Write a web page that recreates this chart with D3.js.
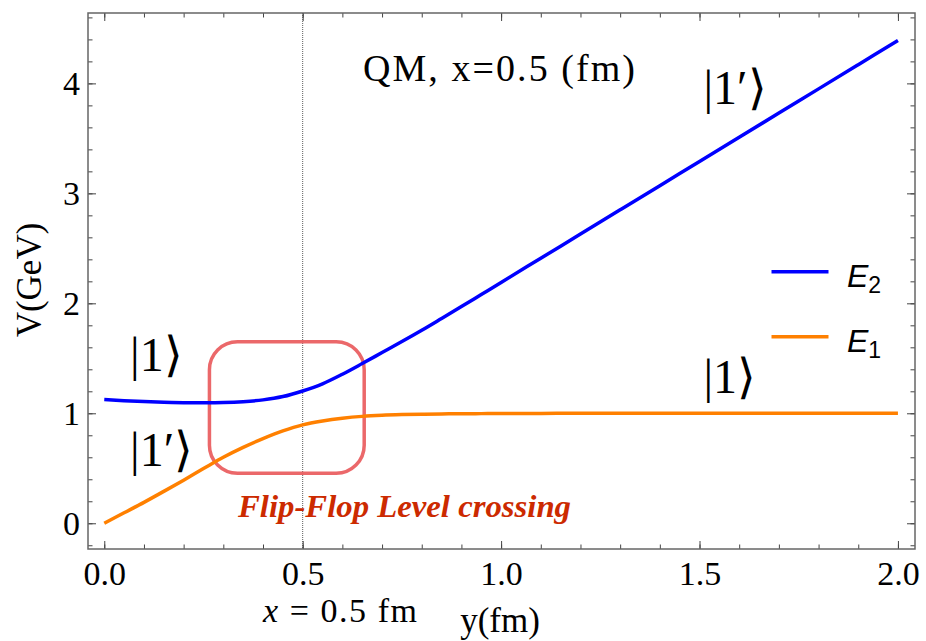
<!DOCTYPE html>
<html>
<head>
<meta charset="utf-8">
<script src="https://cdn.jsdelivr.net/npm/d3@7/dist/d3.min.js"></script>
<style>
  html, body { margin: 0; padding: 0; background: #fff; }
  svg { display: block; }
</style>
</head>
<body>
<svg id="chart" width="926" height="641"></svg>
<script>
// ---- data ----
const yPos = [0.00,0.05,0.10,0.15,0.20,0.25,0.30,0.35,0.40,0.45,0.50,0.55,0.60,0.65,0.70,0.75,0.80,0.85,0.90,0.95,1.00,
              1.10,1.20,1.30,1.40,1.50,1.60,1.70,1.80,1.90,2.00];
const E2 = [1.125,1.115,1.107,1.101,1.097,1.096,1.098,1.106,1.122,1.152,1.203,1.268,1.355,1.452,1.552,1.652,1.755,1.862,1.970,2.080,2.190,
            2.410,2.630,2.850,3.070,3.290,3.510,3.730,3.950,4.170,4.390];
const E1 = [0.000,0.095,0.190,0.290,0.392,0.497,0.600,0.690,0.770,0.840,0.895,0.930,0.955,0.972,0.982,0.988,0.992,0.994,0.996,0.997,0.998,
            0.999,1.000,1.000,1.000,1.000,1.000,1.000,1.000,1.000,1.000];
const seriesNames = ["E2", "E1"];
const xMajorTicks = [0.0, 0.5, 1.0, 1.5, 2.0];
const yMajorTicks = [0, 1, 2, 3, 4];
const xMinorTicks = d3.range(0, 21).map(i => i / 10);
const yMinorTicks = d3.range(-1, 24).map(i => i / 5);
const boxY = [0.265, 0.655];   // y(fm) extent of highlight box
const boxV = [0.455, 1.65];    // V extent of highlight box
const markerY = 0.5;
const title = "QM, x=0.5 (fm)";
const annotation = "Flip-Flop Level crossing";
const kets = [
  {label: "|1⟩",  y: 0.065, v: 1.385},
  {label: "|1′⟩", y: 0.065, v: 0.525},
  {label: "|1′⟩", y: 1.51,  v: 3.815},
  {label: "|1⟩",  y: 1.51,  v: 1.185}
];

// ---- layout ----
const svg = d3.select("#chart");
const L = 88, R = 915, T = 13, B = 549;
const x = d3.scaleLinear().domain([-0.041, 2.043]).range([L, R]);
const yv = d3.scaleLinear().domain([-0.234, 4.64]).range([B, T]);
const serif = "'Liberation Serif', 'Times New Roman', serif";
const tickColor = "#444";

// dotted marker line at x=0.5
svg.append("line")
  .attr("x1", x(markerY)).attr("x2", x(markerY))
  .attr("y1", T).attr("y2", B)
  .attr("stroke", "#333").attr("stroke-width", 0.8)
  .attr("stroke-dasharray", "1,1");

// axes ticks (inward) on all four sides
function styleAxis(g) {
  g.select(".domain").remove();
  g.selectAll(".tick line").attr("stroke", tickColor).attr("stroke-width", 1);
}
svg.append("g").attr("transform", `translate(0,${B})`)
  .call(d3.axisBottom(x).tickValues(xMinorTicks).tickSize(-4.5).tickFormat(""))
  .call(styleAxis);
svg.append("g").attr("transform", `translate(0,${T})`)
  .call(d3.axisTop(x).tickValues(xMinorTicks).tickSize(-4.5).tickFormat(""))
  .call(styleAxis);
svg.append("g").attr("transform", `translate(${L},0)`)
  .call(d3.axisLeft(yv).tickValues(yMinorTicks).tickSize(-4.5).tickFormat(""))
  .call(styleAxis);
svg.append("g").attr("transform", `translate(${R},0)`)
  .call(d3.axisRight(yv).tickValues(yMinorTicks).tickSize(-4.5).tickFormat(""))
  .call(styleAxis);

const xb = svg.append("g").attr("transform", `translate(0,${B})`)
  .call(d3.axisBottom(x).tickValues(xMajorTicks).tickSize(-8).tickPadding(12).tickFormat(d3.format(".1f")))
  .call(styleAxis);
xb.attr("font-family", serif);
xb.selectAll("text").attr("font-family", serif).attr("font-size", 34).attr("fill", "#000");
svg.append("g").attr("transform", `translate(0,${T})`)
  .call(d3.axisTop(x).tickValues(xMajorTicks).tickSize(-8).tickFormat(""))
  .call(styleAxis);
const yl = svg.append("g").attr("transform", `translate(${L},0)`)
  .call(d3.axisLeft(yv).tickValues(yMajorTicks).tickSize(-8).tickPadding(8).tickFormat(d3.format("d")))
  .call(styleAxis);
yl.attr("font-family", serif);
yl.selectAll("text").attr("font-family", serif).attr("font-size", 34).attr("fill", "#000").attr("dy", "0.34em");
svg.append("g").attr("transform", `translate(${R},0)`)
  .call(d3.axisRight(yv).tickValues(yMajorTicks).tickSize(-8).tickFormat(""))
  .call(styleAxis);

// frame
svg.append("rect").attr("x", L).attr("y", T).attr("width", R - L).attr("height", B - T)
  .attr("fill", "none").attr("stroke", "#666").attr("stroke-width", 1.5);

// highlight box
svg.append("rect")
  .attr("x", x(boxY[0])).attr("y", yv(boxV[1]))
  .attr("width", x(boxY[1]) - x(boxY[0])).attr("height", yv(boxV[0]) - yv(boxV[1]))
  .attr("rx", 28).attr("ry", 28)
  .attr("fill", "none").attr("stroke", "#e9585a").attr("stroke-opacity", 0.9).attr("stroke-width", 3.5);

// curves
const line = (vals) => d3.line().x((d, i) => x(yPos[i])).y(d => yv(d)).curve(d3.curveCatmullRom)(vals);
const colors = {E2: "#0000ff", E1: "#ff8000"};
svg.append("path").attr("d", line(E1)).attr("fill", "none").attr("stroke", colors.E1).attr("stroke-width", 3.5);
svg.append("path").attr("d", line(E2)).attr("fill", "none").attr("stroke", colors.E2).attr("stroke-width", 3.5);

// legend
const legend = [{name: "E", sub: "2", color: colors.E2, cy: 271.7}, {name: "E", sub: "1", color: colors.E1, cy: 336.7}];
legend.forEach(d => {
  svg.append("line").attr("x1", 771.5).attr("x2", 828.5).attr("y1", d.cy).attr("y2", d.cy)
    .attr("stroke", d.color).attr("stroke-width", 3.5);
  const t = svg.append("text").attr("x", 847).attr("y", d.cy + 15)
    .attr("font-family", "'Liberation Sans', Arial, sans-serif").attr("font-size", 32).attr("font-style", "italic").attr("fill", "#000");
  t.append("tspan").text(d.name);
  t.append("tspan").attr("font-size", 23).attr("font-style", "normal").attr("dx", 0).attr("dy", 6).text(d.sub);
});

// title
svg.append("text").attr("x", 363).attr("y", 81).attr("font-family", serif).attr("font-size", 38)
  .attr("textLength", 272).attr("lengthAdjust", "spacing").text(title);

// kets
kets.forEach(k => {
  svg.append("text").attr("x", x(k.y)).attr("y", yv(k.v))
    .attr("font-family", serif).attr("font-size", 48).attr("fill", "#000").text(k.label);
});

// annotation
svg.append("text").attr("x", 238).attr("y", 517).attr("font-family", serif).attr("font-size", 31)
  .attr("font-style", "italic").attr("font-weight", "bold").attr("fill", "#cc2a00")
  .attr("textLength", 333).attr("lengthAdjust", "spacingAndGlyphs").text(annotation);

// axis labels
svg.append("text").attr("transform", "translate(41,280) rotate(-90)").attr("text-anchor", "middle")
  .attr("font-family", serif).attr("font-size", 35).text("V(GeV)");
svg.append("text").attr("x", 500).attr("y", 632).attr("text-anchor", "middle")
  .attr("font-family", serif).attr("font-size", 35).text("y(fm)");
const xl = svg.append("text").attr("x", 263).attr("y", 622).attr("font-family", serif).attr("font-size", 34)
  .attr("textLength", 154).attr("lengthAdjust", "spacing");
xl.append("tspan").attr("font-style", "italic").text("x");
xl.append("tspan").text(" = 0.5 fm");
</script>
</body>
</html>
